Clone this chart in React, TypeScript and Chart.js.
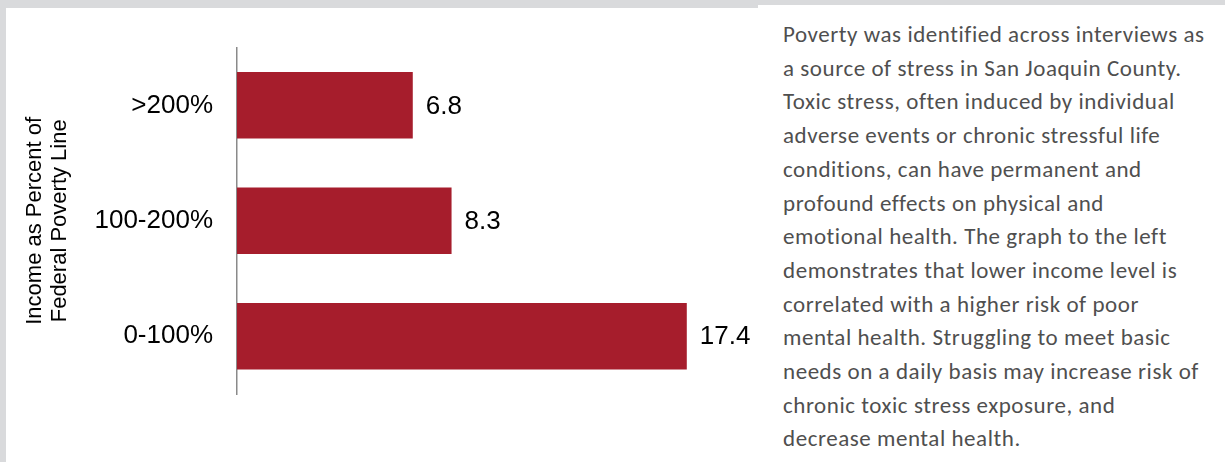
import React, { useEffect, useRef } from "react";
import { Chart, registerables } from "chart.js";

Chart.register(...registerables);

const categories = [">200%", "100-200%", "0-100%"];
const values = [6.8, 8.3, 17.4];
const axisTitle = ["Income as Percent of", "Federal Poverty Line"];
const xMin = 0;
const xMax = 20;

const paragraphLines = [
  "Poverty was identified across interviews as",
  "a source of stress in San Joaquin County.",
  "Toxic stress, often induced by individual",
  "adverse events or chronic stressful life",
  "conditions, can have permanent and",
  "profound effects on physical and",
  "emotional health. The graph to the left",
  "demonstrates that lower income level is",
  "correlated with a higher risk of poor",
  "mental health. Struggling to meet basic",
  "needs on a daily basis may increase risk of",
  "chronic toxic stress exposure, and",
  "decrease mental health.",
];

const valueLabelPlugin = {
  id: "valueLabels",
  afterDatasetsDraw(chart: any) {
    const ctx = chart.ctx;
    const meta = chart.getDatasetMeta(0);
    const data = chart.data.datasets[0].data;
    ctx.save();
    ctx.font = "26px 'Liberation Sans', Arial, sans-serif";
    ctx.fillStyle = "#000000";
    ctx.textAlign = "left";
    ctx.textBaseline = "middle";
    meta.data.forEach((bar: any, i: number) => {
      ctx.fillText(String(data[i]), bar.x + 13, bar.y + 1);
    });
    ctx.restore();
  },
};

function BarChart() {
  const ref = useRef<HTMLCanvasElement | null>(null);
  useEffect(() => {
    if (!ref.current) return;
    const chart = new Chart(ref.current, {
      type: "bar",
      data: {
        labels: categories,
        datasets: [
          {
            data: values,
            backgroundColor: "#A61D2C",
            borderWidth: 0,
            barPercentage: 0.576,
            categoryPercentage: 1,
          },
        ],
      },
      options: {
        indexAxis: "y",
        animation: false,
        responsive: false,
        devicePixelRatio: 1,
        layout: { padding: { left: 10, top: 37, bottom: 68, right: 4 } },
        plugins: {
          legend: { display: false },
          tooltip: { enabled: false },
        },
        scales: {
          x: {
            display: false,
            min: xMin,
            max: xMax,
          },
          y: {
            grid: { display: false, drawTicks: false },
            border: { display: true, color: "#8a8a8a", width: 1.5 },
            ticks: {
              padding: 24,
              color: "#000000",
              font: { family: "'Liberation Sans', Arial, sans-serif", size: 26 },
            },
            title: {
              display: true,
              text: axisTitle,
              color: "#000000",
              font: { family: "'Liberation Sans', Arial, sans-serif", size: 22, lineHeight: 1.15 },
              padding: { top: 6, bottom: 10 },
            },
            afterFit: (scale: any) => {
              scale.width = 221;
            },
          },
        },
      },
      plugins: [valueLabelPlugin],
    });
    return () => chart.destroy();
  }, []);
  return <canvas ref={ref} width={752} height={454} style={{ display: "block" }} />;
}

export default function App() {
  return (
    <div
      style={{
        position: "fixed",
        left: 0,
        top: 0,
        width: 1225,
        height: 462,
        background: "#D9DADC",
        overflow: "hidden",
      }}
    >
      <div
        style={{
          position: "absolute",
          left: 6,
          top: 8,
          width: 752,
          height: 454,
          background: "#FFFFFF",
        }}
      >
        <BarChart />
      </div>
      <div
        style={{
          position: "absolute",
          left: 758,
          top: 5,
          width: 467,
          height: 457,
          background: "#FFFFFF",
        }}
      >
        <div
          style={{
            position: "absolute",
            left: 25,
            top: 13,
            fontFamily: "Carlito, Calibri, Lato, sans-serif",
            fontSize: 23,
            letterSpacing: "0.55px",
            lineHeight: "33.7px",
            color: "#4F4F4F",
            whiteSpace: "nowrap",
          }}
        >
          {paragraphLines.map((l, i) => (
            <div key={i}>{l}</div>
          ))}
        </div>
      </div>
    </div>
  );
}
